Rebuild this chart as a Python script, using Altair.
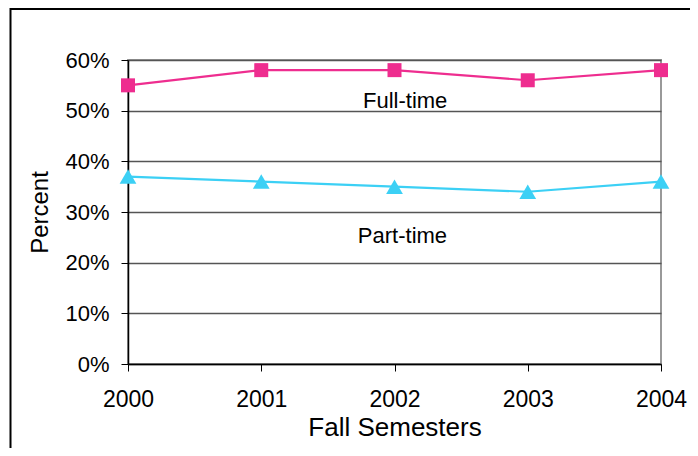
import altair as alt
import pandas as pd

years = [2000, 2001, 2002, 2003, 2004]
full_time = [0.55, 0.58, 0.58, 0.56, 0.58]
part_time = [0.37, 0.36, 0.35, 0.34, 0.36]

series_names = ["Full-time", "Part-time"]
series_colors = ["#EE2D8F", "#3CD0F5"]
series_shapes = ["square", "triangle-up"]

label_text = ["Full-time", "Part-time"]
label_x = [2002.08, 2002.06]
label_y = [0.505, 0.239]

rows = []
for y, v in zip(years, full_time):
    rows.append({"Year": y, "Value": v, "Series": "Full-time"})
for y, v in zip(years, part_time):
    rows.append({"Year": y, "Value": v, "Series": "Part-time"})
df = pd.DataFrame(rows)
labels = pd.DataFrame({"text": label_text, "Year": label_x, "Value": label_y})

W, H = 533, 304
FONT = "Liberation Sans"

xenc = alt.X("Year:Q", scale=alt.Scale(domain=[2000, 2004], nice=False, zero=False),
             axis=alt.Axis(values=years, format="d", title="Fall Semesters",
                           labelFontSize=23, titleFontSize=26, titleFontWeight="normal",
                           labelColor="#000", titleColor="#000", domainColor="#000",
                           domainWidth=1.5, labelFlush=False, labelOverlap=False,
                           tickColor="#000", tickSize=7, labelPadding=17, titlePadding=3,
                           grid=False, labelFont=FONT, titleFont=FONT))
yenc = alt.Y("Value:Q", scale=alt.Scale(domain=[0, 0.6], nice=False),
             axis=alt.Axis(values=[0, 0.1, 0.2, 0.3, 0.4, 0.5, 0.6], format=".0%", title="Percent",
                           labelFontSize=22, titleFontSize=24, titleFontWeight="normal",
                           labelColor="#000", titleColor="#000", domainColor="#000",
                           domainWidth=1.5, labelFlush=False,
                           tickColor="#000", tickSize=7, labelPadding=12, titlePadding=12,
                           gridColor="#555", gridWidth=1.5, labelFont=FONT,
                           titleFont=FONT))
color = alt.Color("Series:N", scale=alt.Scale(domain=series_names, range=series_colors), legend=None)
shape = alt.Shape("Series:N", scale=alt.Scale(domain=series_names, range=series_shapes), legend=None)
size = alt.Size("Series:N", scale=alt.Scale(domain=series_names, range=[196, 280]), legend=None)

base = alt.Chart(df)
lines = base.mark_line(strokeWidth=2.2).encode(x=xenc, y=yenc, color=color, detail="Series:N")
points = base.mark_point(filled=True, opacity=1).encode(
    x="Year:Q", y="Value:Q", color=color, shape=shape, size=size)
text = alt.Chart(labels).mark_text(fontSize=22, font=FONT, color="#000", baseline="alphabetic").encode(
    x="Year:Q", y="Value:Q", text="text:N")

frame = alt.Chart(pd.DataFrame({"a": [0]})).mark_rect(fill=None, stroke="#000", strokeWidth=2).encode(
    x=alt.value(-117.5), x2=alt.value(W + 40), y=alt.value(-51), y2=alt.value(H + 100))

chart = alt.layer(frame, lines, points, text).properties(
    width=W, height=H,
    autosize=alt.AutoSizeParams(type="none"),
    padding={"left": 120, "top": 52, "right": 29, "bottom": 84},
    background="white",
).configure_view(stroke="#999", strokeWidth=2)

chart.save("out.html", embed_options={"renderer": "svg", "actions": False})
